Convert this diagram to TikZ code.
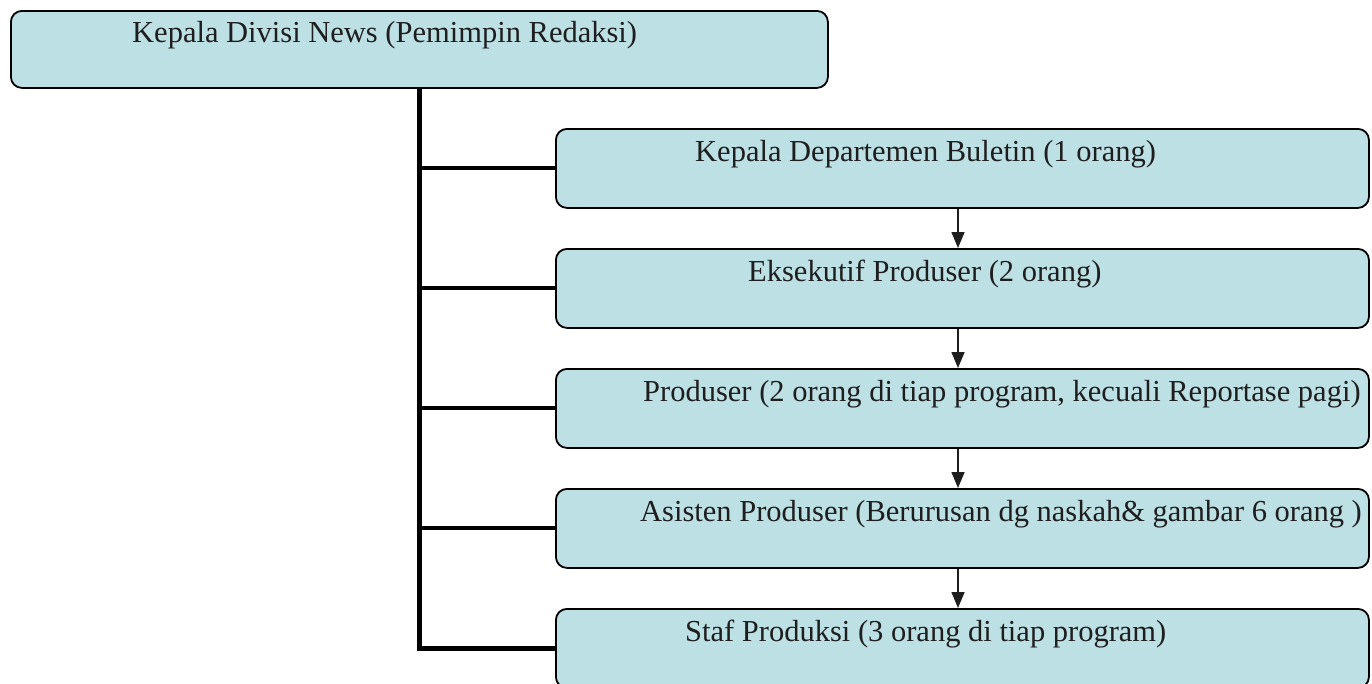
\documentclass[tikz,border=0pt]{standalone}
\usepackage{fontspec}
\setmainfont{Liberation Serif}
\usetikzlibrary{arrows.meta}
\definecolor{boxfill}{RGB}{189,224,228}
\definecolor{ink}{RGB}{30,30,30}
\begin{document}
\begin{tikzpicture}[x=1pt,y=-1pt,
  box/.style={draw=black, line width=1.8pt, rounded corners=11pt, fill=boxfill, anchor=north west, inner sep=0pt},
  lbl/.style={anchor=base west, inner sep=0pt, font=\fontsize{30.5}{36}\selectfont, text=ink},
  bar/.style={draw=black, line width=5pt},
  branch/.style={draw=black, line width=4pt},
  flow/.style={draw=ink, line width=1.6pt, -{Triangle[length=16pt,width=13pt]}}]
\useasboundingbox[fill=white] (0,0) rectangle (1372,683);
\node[box, minimum width=817pt, minimum height=77pt] (head) at (10,10) {};
\node[box, minimum width=813pt, minimum height=79pt] (b1) at (555,128) {};
\node[box, minimum width=813pt, minimum height=79pt] (b2) at (555,248) {};
\node[box, minimum width=813pt, minimum height=79pt] (b3) at (555,368) {};
\node[box, minimum width=813pt, minimum height=79pt] (b4) at (555,488) {};
\node[box, minimum width=813pt, minimum height=79pt] (b5) at (555,608) {};
\node[lbl] (thead) at (132,42) {Kepala Divisi News (Pemimpin Redaksi)};
\node[lbl] (t1) at (695,161) {Kepala Departemen Buletin (1 orang)};
\node[lbl] (t2) at (748,281) {Eksekutif Produser (2 orang)};
\node[lbl] (t3) at (643,401) {Produser (2 orang di tiap program, kecuali Reportase pagi)};
\node[lbl] (t4) at (640,521) {Asisten Produser (Berurusan dg naskah\& gambar 6 orang )};
\node[lbl] (t5) at (685,641) {Staf Produksi (3 orang di tiap program)};
\coordinate (ax) at (958,0);
\draw[bar] (head.south) -- (head.south |- b5.west) -- (b5.west);
\foreach \b in {b1,b2,b3,b4}{\draw[branch] (head.south |- \b.west) -- (\b.west);}
\draw[flow] (b1.south -| ax) -- (b2.north -| ax);
\draw[flow] (b2.south -| ax) -- (b3.north -| ax);
\draw[flow] (b3.south -| ax) -- (b4.north -| ax);
\draw[flow] (b4.south -| ax) -- (b5.north -| ax);
\end{tikzpicture}
\end{document}
